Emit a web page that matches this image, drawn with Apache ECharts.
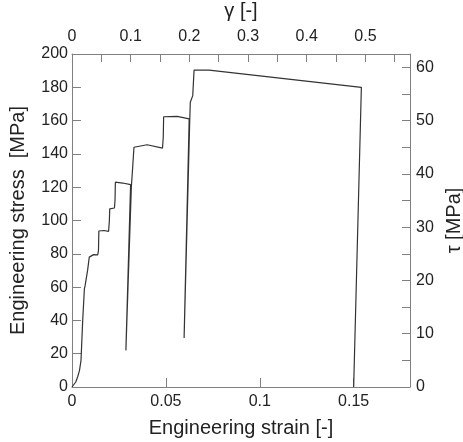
<!DOCTYPE html>
<html>
  <head>
<meta charset="utf-8">
<title>stress strain</title>
<script src="https://cdn.jsdelivr.net/npm/echarts@6/dist/echarts.min.js"></script>
<style>
  html, body { margin: 0; padding: 0; background: #fff; }
  #main { width: 463px; height: 442px; }
</style>
  </head>
  <body>
    <div id="main"></div>
    <script type="application/javascript">

// engineering strain [-] and engineering stress [MPa]
var strain = [0, 0.001, 0.002, 0.003, 0.004, 0.0048, 0.0057, 0.0066, 0.0070, 0.0074,
  0.0083, 0.0092, 0.0115, 0.0137, 0.0141, 0.0143, 0.0170, 0.0195, 0.0199, 0.0201,
  0.0226, 0.0229, 0.0231, 0.0270, 0.0312, 0.0287, 0.0316, 0.0322, 0.0330, 0.0400,
  0.0482, 0.0486, 0.0488, 0.0560, 0.0624, 0.0597, 0.0627, 0.0630, 0.0643, 0.0647,
  0.0650, 0.0730, 0.1541, 0.1500];
var stress = [0, 1.5, 3, 6, 10, 16, 40, 59, 61, 62,
  70, 78, 79.5, 79.3, 82, 93.7, 94, 93.5, 100, 107,
  107.5, 112, 123, 122.5, 121.5, 22, 120, 130, 144, 145.5,
  143.5, 150, 162.3, 162.5, 161, 29.5, 160, 171, 175, 176,
  190.3, 190.3, 180, 0];

var strainTicks = [0, 0.05, 0.1, 0.15];
var strainMax = 0.18;
var stressMax = 200;
var factor = 3.2;   // gamma = strain * factor, tau = stress / factor

var pts = [];
for (var i = 0; i < strain.length; i++) pts.push([strain[i], stress[i]]);

var grey = '#808080';
var font = 'Liberation Sans, Arial, sans-serif';

function axisBase() {
  return {
    axisLine: { show: true, onZero: false, lineStyle: { color: grey, width: 1 } },
    axisTick: { show: true, inside: true, length: 9, lineStyle: { color: grey } },
    splitLine: { show: false },
    axisLabel: { color: '#222', fontSize: 16, fontFamily: font, showMaxLabel: false },
    nameTextStyle: { color: '#222', fontSize: 20, fontFamily: font },
    nameLocation: 'middle'
  };
}

var bottomX = Object.assign(axisBase(), {
  type: 'value', position: 'bottom', min: 0, max: strainMax, interval: 0.05,
  name: 'Engineering strain [-]', nameGap: 31
});
bottomX.axisLabel.margin = 7;
bottomX.axisLabel.formatter = function (v) {
  return strainTicks.indexOf(Math.round(v * 100) / 100) >= 0 ? String(Math.round(v * 100) / 100) : '';
};

var topX = Object.assign(axisBase(), {
  type: 'value', position: 'top', min: 0, max: strainMax * factor, interval: 0.05,
  name: 'γ [-]', nameGap: 33
});
topX.axisTick.length = 8;
topX.axisLabel.margin = 9;
topX.axisLabel.formatter = function (v) {
  var t = Math.round(v * 100);
  return t % 10 === 0 ? String(t / 100) : '';
};

var leftY = Object.assign(axisBase(), {
  type: 'value', position: 'left', min: 0, max: stressMax, interval: 20,
  name: 'Engineering stress  [MPa]', nameGap: 44, nameRotate: 90
});
leftY.axisLabel.margin = 4;
leftY.axisLabel.showMaxLabel = true;

var rightY = Object.assign(axisBase(), {
  type: 'value', position: 'right', min: 0, max: stressMax / factor, interval: 5,
  name: 'τ [MPa]', nameGap: 33, nameRotate: 90
});
rightY.axisTick.length = 8;
rightY.axisLabel.margin = 6;
rightY.axisLabel.formatter = function (v) {
  return Math.round(v) % 10 === 0 ? String(Math.round(v)) : '';
};

var myChart = echarts.init(document.getElementById('main'), null, { renderer: 'canvas' });
myChart.setOption({
  backgroundColor: '#fff',
  animation: false,
  grid: { left: 72, right: 53, top: 54, bottom: 55, containLabel: false, outerBoundsMode: 'none' },
  xAxis: [bottomX, topX],
  yAxis: [leftY, rightY],
  series: [{
    type: 'line',
    xAxisIndex: 0,
    yAxisIndex: 0,
    data: pts,
    showSymbol: false,
    symbol: 'none',
    lineStyle: { color: '#333', width: 1.2 }
  }]
});

</script>
  </body>
</html>
